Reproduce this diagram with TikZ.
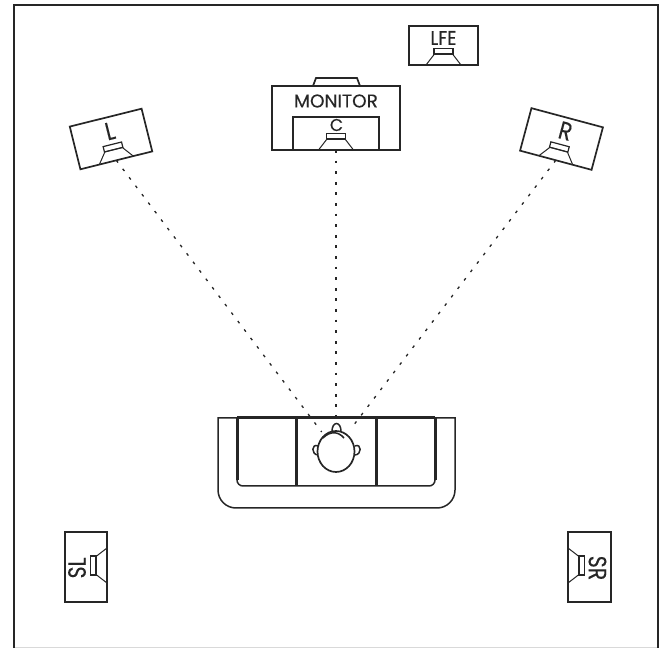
\documentclass[tikz,border=0pt]{standalone}
\usepackage{fontspec}
\setmainfont{Poppins}[FakeBold=0.25]
\usetikzlibrary{shapes.geometric,positioning,calc}

\begin{document}
\begin{tikzpicture}[
        x=1pt, y=1pt,
        cabinet/.style={rectangle, draw=black!85, line width=1.7pt, inner sep=0pt, outer sep=0pt},
        tag/.style={inner sep=0pt, text=black!85},
        sightline/.style={draw=black!85, line width=1.3pt, dash pattern=on 2.8pt off 7.8pt},
        sofa/.style={draw=black!85, line width=1.5pt},
        sofaedge/.style={draw=black!85, line width=3pt},
        speaker/.pic={
          \draw [black!85, line width=1pt] (-17.5,0) -- (-9,11) -- (9,11) -- (17.5,0);
          \draw [black!85, line width=1.2pt] (-9.5,11) rectangle (9.5,16.5);
        },
      ]
      \useasboundingbox (0,0) rectangle (664,648);
      % room
      \draw [black!15, line width=.6pt] (14,1) -- (658,1);
      \draw [black!85, line width=2.4pt] (14,0) -- (14,643) -- (658,643) -- (658,0);
      % front speakers
      \node [cabinet, minimum width=74pt, minimum height=44pt, rotate=14] (left) at (111,509) {};
      \node [cabinet, minimum width=74pt, minimum height=44pt, rotate=-15] (right) at (561.5,509) {};
      \node [cabinet, minimum width=69pt, minimum height=39pt] (lfe) at (443.5,602.5) {};
      \node [cabinet, minimum width=128pt, minimum height=64pt] (monitor) at (336,530) {};
      \node [cabinet, minimum width=86pt, minimum height=33pt, anchor=south] (center) at (monitor.south) {};
      \draw [black!85, line width=1.7pt] (313,562) -- (316,570) -- (357,570) -- (360,562);
      \pic [rotate=14] at (left.south) {speaker};
      \pic [rotate=-15] at (right.south) {speaker};
      \pic at (lfe.south) {speaker};
      \pic at (center.south) {speaker};
      \node [tag, font=\fontsize{25}{25}\selectfont, rotate=14, xscale=.85] (leftname) at (110,517) {L};
      \node [tag, font=\fontsize{25}{25}\selectfont, rotate=-15, xscale=.85] (rightname) at (565.5,517) {R};
      \node [tag, font=\fontsize{20}{20}\selectfont, xscale=.9] (lfename) at (443.5,610) {LFE};
      \node [tag, font=\fontsize{18.5}{18.5}\selectfont] (monitorname) at (336,547) {MONITOR};
      \node [tag, font=\fontsize{17}{17}\selectfont] (centername) at (336.5,523) {C};
      % surround speakers
      \node [cabinet, minimum width=42pt, minimum height=70pt] (sleft) at (86,81) {};
      \node [cabinet, minimum width=43pt, minimum height=70pt] (sright) at (589.5,81) {};
      \pic [rotate=90] at (107,82.5) {speaker};
      \pic [rotate=-90] at (568,82.5) {speaker};
      \node [tag, font=\fontsize{25}{25}\selectfont, rotate=90, xscale=.82] (slname) at (77,80) {SL};
      \node [tag, font=\fontsize{25}{25}\selectfont, rotate=-90, xscale=.82] (srname) at (597.5,80) {SR};
      % sofa
      \draw [sofa] (218,230) -- (218,158) arc (180:270:18) -- (437,140) arc (270:360:18) -- (455,230) -- cycle;
      \draw [sofa] (237,230) -- (237,168) arc (180:270:6) -- (429,162) arc (270:360:6) -- (435,230);
      \draw [sofaedge] (237,230) -- (237,168);
      \draw [sofaedge] (435,230) -- (435,168);
      \draw [sofaedge] (237,230) -- (435,230);
      \draw [sofaedge] (296,230) -- (296,162);
      \draw [sofaedge] (376,230) -- (376,162);
      % listener
      \coordinate (leftear) at (321.7,216);
      \coordinate (rightear) at (350.7,219);
      \coordinate (front) at (336,230);
      \draw [sofa] (332,217) arc (180:0:4.5 and 7.5);
      \draw [sofa] (318.3,202) .. controls (311,205) and (311,193) .. (318.3,193);
      \draw [sofa] (354.7,202) .. controls (362,205) and (362,193) .. (354.7,193);
      \node [draw=black!85, line width=1.7pt, fill=white, ellipse, minimum width=37pt, minimum height=41pt, inner sep=0pt] (head) at (336,196.5) {};
      \draw [sofa] (323,210) .. controls (330,217) and (338,217) .. (344,210);
      % sight lines
      \draw [sightline] (left.south) -- (leftear);
      \draw [sightline] (right.south) -- (rightear);
      \draw [sightline] (center.south) -- (front);
    \end{tikzpicture}
\end{document}
